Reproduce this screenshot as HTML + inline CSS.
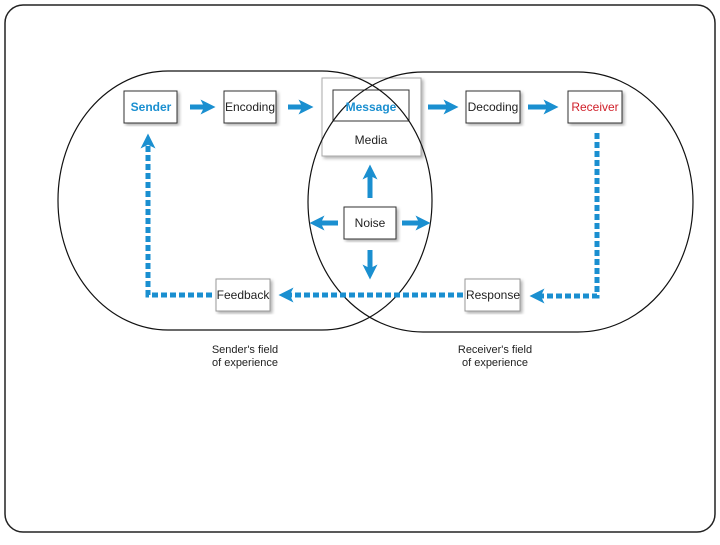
<!DOCTYPE html>
<html><head><meta charset="utf-8"><style>
body{margin:0;background:#fff;width:720px;height:540px;overflow:hidden;font-family:"Liberation Sans",sans-serif}
</style></head><body>
<svg width="720" height="540" viewBox="0 0 720 540" xmlns="http://www.w3.org/2000/svg" font-family="Liberation Sans, sans-serif">
<defs>
<marker id="ah" viewBox="0 0 10 10" refX="5" refY="5" markerWidth="3" markerHeight="3" orient="auto" markerUnits="strokeWidth">
<path d="M0,0 L10,5 L0,10 L2.5,5 Z" fill="#1a8fd0"/></marker>
<filter id="sh"><feDropShadow dx="2" dy="2" stdDeviation="1.5" flood-color="#000" flood-opacity="0.3"/></filter>
</defs>
<rect x="5" y="5" width="710" height="527" rx="18" fill="#fff" stroke="#222" stroke-width="1.5"/>
<g font-size="12" text-anchor="middle" stroke="#333" stroke-width="1">
<rect x="322" y="78" width="99" height="78" fill="#fff" stroke="#aaa" filter="url(#sh)"/>
<rect x="124" y="91" width="53" height="32" fill="#fff" filter="url(#sh)"/>
<rect x="224" y="91" width="52" height="32" fill="#fff" filter="url(#sh)"/>
<rect x="333" y="90" width="76" height="31" fill="none"/>
<rect x="466" y="91" width="54" height="32" fill="#fff" filter="url(#sh)"/>
<rect x="568" y="91" width="54" height="32" fill="#fff" filter="url(#sh)"/>
<rect x="344" y="207" width="52" height="32" fill="#fff" filter="url(#sh)"/>
<rect x="216" y="279" width="54" height="32" fill="#fff" stroke="#999" filter="url(#sh)"/>
<rect x="465" y="279" width="55" height="32" fill="#fff" stroke="#999" filter="url(#sh)"/>
</g>
<rect x="58" y="71" width="374" height="259" rx="110" ry="129" fill="none" stroke="#111" stroke-width="1.2"/>
<rect x="308" y="72" width="385" height="260" rx="115" ry="130" fill="none" stroke="#111" stroke-width="1.2"/>
<g font-size="12" text-anchor="middle" stroke="none">
<text x="151" y="111" fill="#1a8fd0" font-weight="bold">Sender</text>
<text x="250" y="111" fill="#222">Encoding</text>
<text x="371" y="111" fill="#1a8fd0" font-weight="bold">Message</text>
<text x="371" y="144" fill="#222">Media</text>
<text x="493" y="111" fill="#222">Decoding</text>
<text x="595" y="111" fill="#d0202a">Receiver</text>
<text x="370" y="227" fill="#222">Noise</text>
<text x="243" y="299" fill="#222">Feedback</text>
<text x="493" y="299" fill="#222">Response</text>
<text x="245" y="353" font-size="11" fill="#222">Sender's field</text>
<text x="245" y="366" font-size="11" fill="#222">of experience</text>
<text x="495" y="353" font-size="11" fill="#222">Receiver's field</text>
<text x="495" y="366" font-size="11" fill="#222">of experience</text>
</g>
<g stroke="#1a8fd0" stroke-width="5" fill="none" marker-end="url(#ah)">
<line x1="190" y1="107" x2="208" y2="107"/>
<line x1="288" y1="107" x2="306" y2="107"/>
<line x1="428" y1="107" x2="451" y2="107"/>
<line x1="528" y1="107" x2="551" y2="107"/>
<line x1="370" y1="198" x2="370" y2="172"/>
<line x1="338" y1="223" x2="317" y2="223"/>
<line x1="402" y1="223" x2="423" y2="223"/>
<line x1="370" y1="250" x2="370" y2="272"/>
<path d="M597 133 V296 H537" stroke-dasharray="6 3"/>
<line x1="463" y1="295" x2="286" y2="295" stroke-dasharray="6 3"/>
<path d="M212 295 H148 V141" stroke-dasharray="6 3"/>
</g>
</svg>
</body></html>
